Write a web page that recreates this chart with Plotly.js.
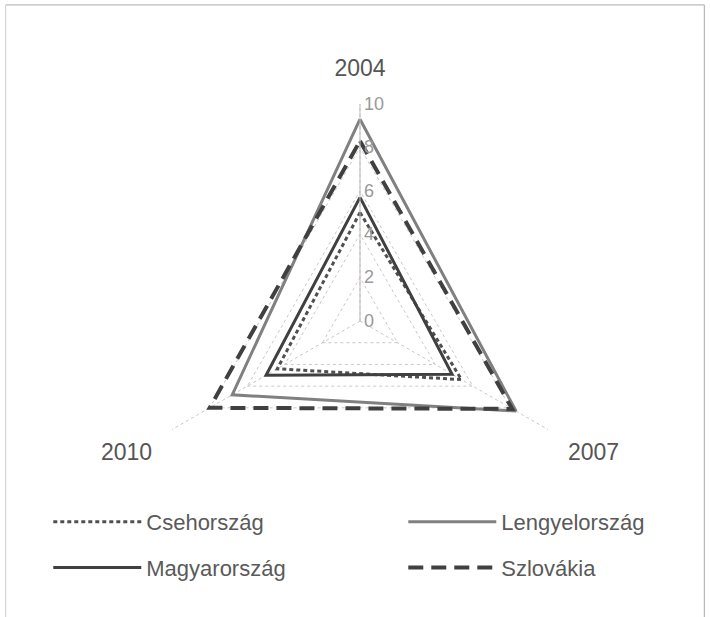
<!DOCTYPE html>
<html>
<head>
<meta charset="utf-8">
<script src="https://cdn.plot.ly/plotly-3.0.1.min.js"></script>
<style>html,body{margin:0;padding:0;background:#fff;}#chart{width:710px;height:617px;}</style>
</head>
<body>
<div id="chart"></div>
<script>
var years = ["2004", "2007", "2010"];
var cseh = [5.0, 5.4, 4.4];
var lengyel = [9.3, 8.3, 6.8];
var magyar = [5.7, 4.9, 5.0];
var szlovakia = [8.3, 8.1, 8.0];
var radialTicks = [0, 2, 4, 6, 8, 10];

function closed(a) { return a.concat([a[0]]); }
var theta = closed(years);

var specs = [
  {name: "Csehország", r: closed(cseh), line: {color: "#505050", width: 3, dash: "4px,3px"}, legend: "legend"},
  {name: "Lengyelország", r: closed(lengyel), line: {color: "#808080", width: 3}, legend: "legend2"},
  {name: "Magyarország", r: closed(magyar), line: {color: "#404040", width: 3}, legend: "legend"},
  {name: "Szlovákia", r: closed(szlovakia), line: {color: "#404040", width: 4, dash: "15px,8px"}, legend: "legend2"}
];
var traces = specs.map(function (t) {
  return {type: "scatterpolar", mode: "lines", r: t.r, theta: theta, name: t.name, line: t.line,
          legend: t.legend, legendgroup: t.name, hoverinfo: "skip"};
});

var legendStyle = function (x) {
  return {
    orientation: "v", x: x, y: 0.188, xanchor: "left", yanchor: "top",
    itemwidth: 88, traceorder: "grouped", tracegroupgap: 14,
    font: {size: 22, color: "#5a5a5a"}, bgcolor: "rgba(0,0,0,0)"
  };
};

var layout = {
  width: 710, height: 617,
  margin: {l: 0, r: 0, t: 0, b: 0},
  paper_bgcolor: "#fff",
  font: {family: "Liberation Sans, Arial, sans-serif", color: "#555"},
  showlegend: true,
  legend: legendStyle(0.068),
  legend2: legendStyle(0.568),
  polar: {
    domain: {x: [0.2014, 0.8127], y: [0.128, 0.8314]},
    gridshape: "linear",
    bgcolor: "rgba(0,0,0,0)",
    radialaxis: {
      range: [0, 10], tickvals: radialTicks, ticktext: radialTicks.map(String),
      angle: 90, tickangle: 90, showline: true, linecolor: "#bbb", linewidth: 1,
      gridcolor: "#c8c8c8", griddash: "dot", gridwidth: 1,
      ticks: "", tickfont: {size: 18, color: "#999"}
    },
    angularaxis: {
      type: "category",
      direction: "clockwise", rotation: 90,
      categoryorder: "array", categoryarray: years,
      showline: false, gridcolor: "#c8c8c8", griddash: "dot", gridwidth: 1,
      ticks: "outside", ticklen: 18, tickcolor: "rgba(0,0,0,0)",
      tickfont: {size: 23, color: "#555"}
    }
  },
  shapes: [
    {type: "line", xref: "paper", yref: "paper", x0: 0.008, x1: 0.992, y0: 0.992, y1: 0.992, line: {color: "#aaa", width: 1}},
    {type: "line", xref: "paper", yref: "paper", x0: 0.008, x1: 0.008, y0: 0.0, y1: 0.992, line: {color: "#ccc", width: 1}},
    {type: "line", xref: "paper", yref: "paper", x0: 0.992, x1: 0.992, y0: 0.0, y1: 0.992, line: {color: "#aaa", width: 1}}
  ]
};

Plotly.newPlot("chart", traces, layout, {displayModeBar: false, staticPlot: true});
</script>
</body>
</html>
